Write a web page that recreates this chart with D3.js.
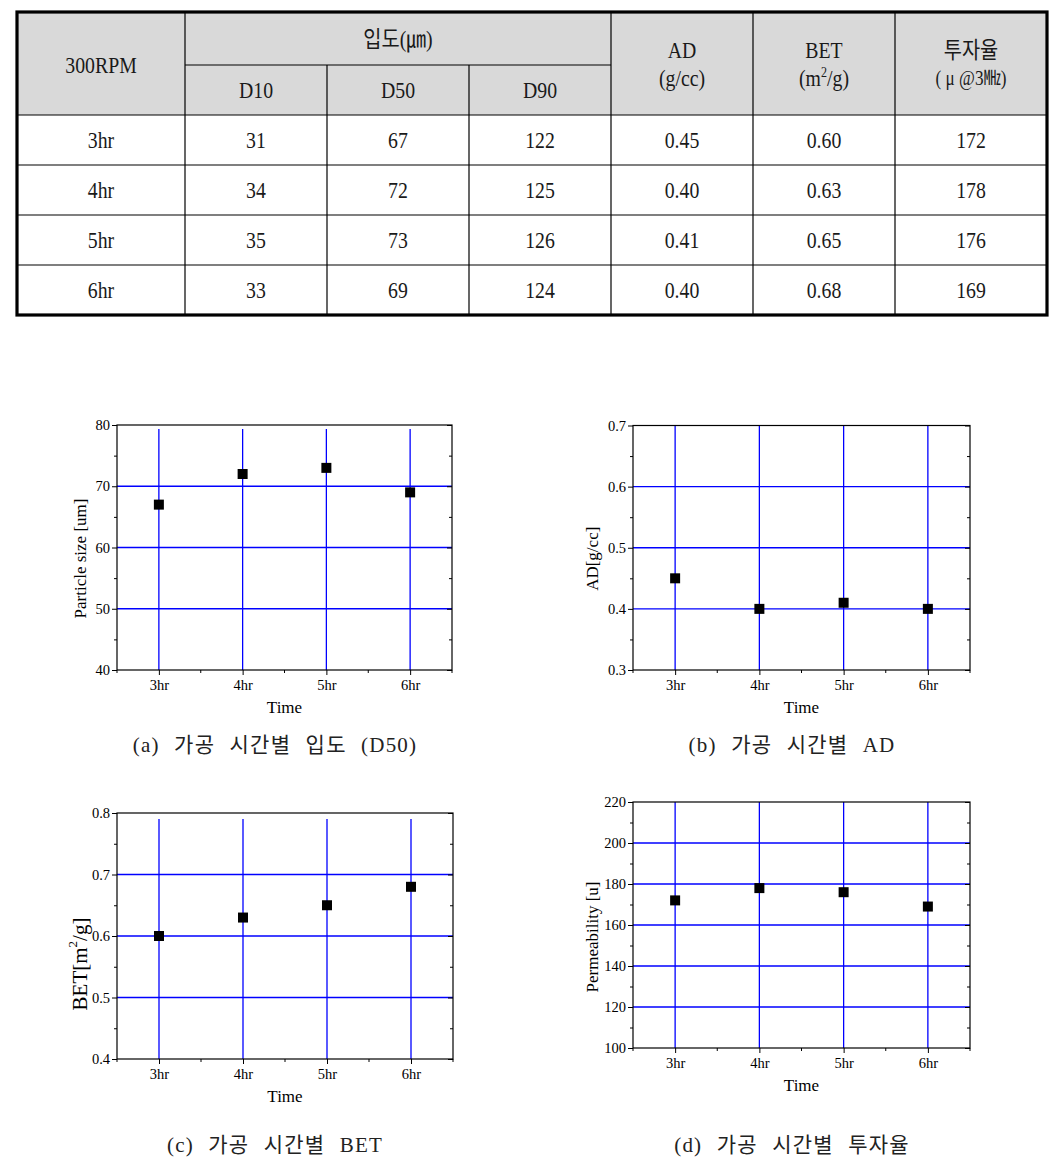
<!DOCTYPE html>
<html>
<head>
<meta charset="utf-8">
<script src="https://cdn.jsdelivr.net/npm/d3@7"></script>
<style>
  html, body { margin: 0; padding: 0; background: #fff; }
  svg { display: block; }
</style>
</head>
<body>
<script>
// ---------- DATA ----------
const times = ["3hr", "4hr", "5hr", "6hr"];
const d10 = [31, 34, 35, 33];
const d50 = [67, 72, 73, 69];
const d90 = [122, 125, 126, 124];
const ad = [0.45, 0.40, 0.41, 0.40];
const bet = [0.60, 0.63, 0.65, 0.68];
const perm = [172, 178, 176, 169];

const captions = ["(a) 가공 시간별 입도 (D50)", "(b) 가공 시간별 AD", "(c) 가공 시간별 BET", "(d) 가공 시간별 투자율"];

// ---------- SVG ----------
const W = 1060, H = 1173;
const svg = d3.select("body").append("svg").attr("width", W).attr("height", H);
svg.append("rect").attr("width", W).attr("height", H).attr("fill", "#fff");

const serif = "'Liberation Serif', 'Times New Roman', 'Noto Sans CJK KR', serif";

// ---------- TABLE ----------
const colX = [17, 185, 327, 469, 611, 753, 895, 1047];
const rowY = [12, 65, 115, 165, 215, 265, 315];
const tbl = svg.append("g").attr("font-family", serif).attr("font-size", 23).attr("fill", "#1a1a1a");

tbl.append("rect").attr("x", colX[0]).attr("y", rowY[0])
  .attr("width", colX[7] - colX[0]).attr("height", rowY[2] - rowY[0]).attr("fill", "#d9d9d9");

const lines = [];
for (let i = 1; i < 7; i++) {
  if (i === 2 || i === 3) lines.push([colX[i], rowY[1], colX[i], rowY[6]]);
  else lines.push([colX[i], rowY[0], colX[i], rowY[6]]);
}
lines.push([colX[1], rowY[1], colX[4], rowY[1]]);
for (let j = 2; j < 6; j++) lines.push([colX[0], rowY[j], colX[7], rowY[j]]);
tbl.selectAll("line.in").data(lines).enter().append("line")
  .attr("x1", d => d[0]).attr("y1", d => d[1]).attr("x2", d => d[2]).attr("y2", d => d[3])
  .attr("stroke", "#000").attr("stroke-width", 1.2);
tbl.append("rect").attr("x", colX[0]).attr("y", rowY[0])
  .attr("width", colX[7] - colX[0]).attr("height", rowY[6] - rowY[0])
  .attr("fill", "none").attr("stroke", "#000").attr("stroke-width", 3.2);

const cx = i => (colX[i] + colX[i + 1]) / 2;
function ttext(x, y, s) {
  return tbl.append("text").attr("transform", `translate(${x},${y}) scale(0.86,1)`)
    .attr("text-anchor", "middle").text(s);
}
ttext(cx(0), 73, "300RPM");
ttext((colX[1] + colX[4]) / 2, 47, "입도(㎛)");
ttext(cx(1), 98, "D10");
ttext(cx(2), 98, "D50");
ttext(cx(3), 98, "D90");
ttext(cx(4), 58, "AD");
ttext(cx(4), 86, "(g/cc)");
ttext(cx(5), 58, "BET");
const bt = tbl.append("text").attr("transform", `translate(${cx(5)},86) scale(0.86,1)`).attr("text-anchor", "middle");
bt.append("tspan").text("(m");
bt.append("tspan").attr("font-size", 14).attr("dy", -9).text("2");
bt.append("tspan").attr("dy", 9).text("/g)");
ttext(cx(6), 58, "투자율");
ttext(cx(6), 85, "( μ @3㎒)").attr("font-size", 20);

const fmt2 = d3.format(".2f");
times.forEach((t, i) => {
  const y = (rowY[i + 2] + rowY[i + 3]) / 2 + 8;
  ttext(cx(0), y, t);
  ttext(cx(1), y, d10[i]);
  ttext(cx(2), y, d50[i]);
  ttext(cx(3), y, d90[i]);
  ttext(cx(4), y, fmt2(ad[i]));
  ttext(cx(5), y, fmt2(bet[i]));
  ttext(cx(6), y, perm[i]);
});

// ---------- CHARTS ----------
const charts = [
  { left: 117, top: 425, w: 335, h: 245, domain: [40, 80], major: 10, minor: 5, grid: [50, 60, 70],
    values: d50, fmt: d3.format("d"), label: "Particle size [um]", labelDy: 11, labelX: 80, labelSize: 17, gridGap: 4 },
  { left: 633, top: 425.5, w: 337, h: 244.5, domain: [0.3, 0.7], major: 0.1, minor: 0.05, grid: [0.4, 0.5, 0.6],
    values: ad, fmt: d3.format(".1f"), label: "AD[g/cc]", labelDy: 11, labelX: 592, labelSize: 17, gridGap: 0 },
  { left: 117, top: 813, w: 336, h: 246, domain: [0.4, 0.8], major: 0.1, minor: 0.05, grid: [0.5, 0.6, 0.7],
    values: bet, fmt: d3.format(".1f"), label: "BET", labelDy: 28, labelX: 80, labelSize: 21, sup: true, gridGap: 6 },
  { left: 633, top: 802, w: 337, h: 246, domain: [100, 220], major: 20, minor: 10, grid: [120, 140, 160, 180, 200],
    values: perm, fmt: d3.format("d"), label: "Permeability [u]", labelDy: 12, labelX: 592, labelSize: 17, gridGap: 0 }
];

function range(a, b, step) {
  const n = Math.round((b - a) / step);
  return d3.range(n + 1).map(k => +(a + k * step).toFixed(6));
}

charts.forEach(c => {
  const g = svg.append("g").attr("transform", `translate(${c.left},${c.top})`)
    .attr("font-family", serif);
  const x = d3.scalePoint().domain(times).range([0, c.w]).padding(0.5);
  const y = d3.scaleLinear().domain(c.domain).range([c.h, 0]);
  const majors = range(c.domain[0], c.domain[1], c.major);
  const minors = range(c.domain[0], c.domain[1], c.minor).filter(v => !majors.some(m => Math.abs(m - v) < 1e-9));
  const step = x.step();
  const xMinor = [x(times[0]) - step / 2].concat(times.map(t => x(t) + step / 2));

  g.selectAll("line.hg").data(c.grid).enter().append("line")
    .attr("x1", 0).attr("x2", c.w).attr("y1", d => y(d)).attr("y2", d => y(d))
    .attr("stroke", "#0000ff").attr("stroke-width", 1.3);
  g.selectAll("line.vg").data(times).enter().append("line")
    .attr("x1", d => x(d)).attr("x2", d => x(d)).attr("y1", c.h).attr("y2", c.gridGap)
    .attr("stroke", "#0000ff").attr("stroke-width", 1.3);

  g.append("rect").attr("width", c.w).attr("height", c.h).attr("fill", "none")
    .attr("stroke", "#000").attr("stroke-width", 1.2);

  const la = g.append("g").call(d3.axisLeft(y).tickValues(majors).tickSize(5).tickPadding(2).tickFormat(c.fmt));
  la.select(".domain").remove();
  la.selectAll("text").attr("font-family", serif).attr("font-size", 14.5).attr("fill", "#000");
  const lm = g.append("g").call(d3.axisLeft(y).tickValues(minors).tickSize(3).tickFormat(""));
  lm.select(".domain").remove();
  const ra = g.append("g").attr("transform", `translate(${c.w},0)`)
    .call(d3.axisLeft(y).tickValues(minors).tickSize(3).tickFormat(""));
  ra.select(".domain").remove();
  const ra2 = g.append("g").attr("transform", `translate(${c.w},0)`)
    .call(d3.axisLeft(y).tickValues(majors).tickSize(5).tickFormat(""));
  ra2.select(".domain").remove();

  const ba = g.append("g").attr("transform", `translate(0,${c.h})`)
    .call(d3.axisBottom(x).tickSize(5).tickPadding(5));
  ba.select(".domain").remove();
  ba.selectAll("text").attr("font-family", serif).attr("font-size", 14.5).attr("fill", "#000");
  g.selectAll("line.xm").data(xMinor).enter().append("line")
    .attr("x1", d => d).attr("x2", d => d).attr("y1", c.h).attr("y2", c.h + 3)
    .attr("stroke", "#000");

  g.append("text").attr("x", c.w / 2).attr("y", c.h + 43).attr("text-anchor", "middle")
    .attr("font-size", 17).attr("fill", "#000").text("Time");

  const yl = g.append("text")
    .attr("transform", `translate(${c.labelX - c.left},${c.h / 2 + c.labelDy}) rotate(-90)`)
    .attr("text-anchor", "middle").attr("dominant-baseline", "central")
    .attr("font-size", c.labelSize).attr("fill", "#000");
  if (c.sup) {
    yl.append("tspan").text("BET[m");
    yl.append("tspan").attr("font-size", 13).attr("dy", -8).text("2");
    yl.append("tspan").attr("dy", 8).text("/g]");
  } else {
    yl.text(c.label);
  }

  const ms = 10;
  g.selectAll("rect.pt").data(times).enter().append("rect")
    .attr("x", (d) => x(d) - ms / 2).attr("y", (d, i) => y(c.values[i]) - ms / 2)
    .attr("width", ms).attr("height", ms).attr("fill", "#000");
});

// ---------- CAPTIONS ----------
const capPos = [[275, 752], [792, 752], [275, 1152], [792, 1152]];
svg.selectAll("text.cap").data(captions).enter().append("text")
  .attr("x", (d, i) => capPos[i][0]).attr("y", (d, i) => capPos[i][1])
  .attr("text-anchor", "middle")
  .attr("font-family", serif).attr("font-size", 21).attr("fill", "#222")
  .attr("word-spacing", 8).attr("letter-spacing", 1.2)
  .text(d => d);
</script>
</body>
</html>
